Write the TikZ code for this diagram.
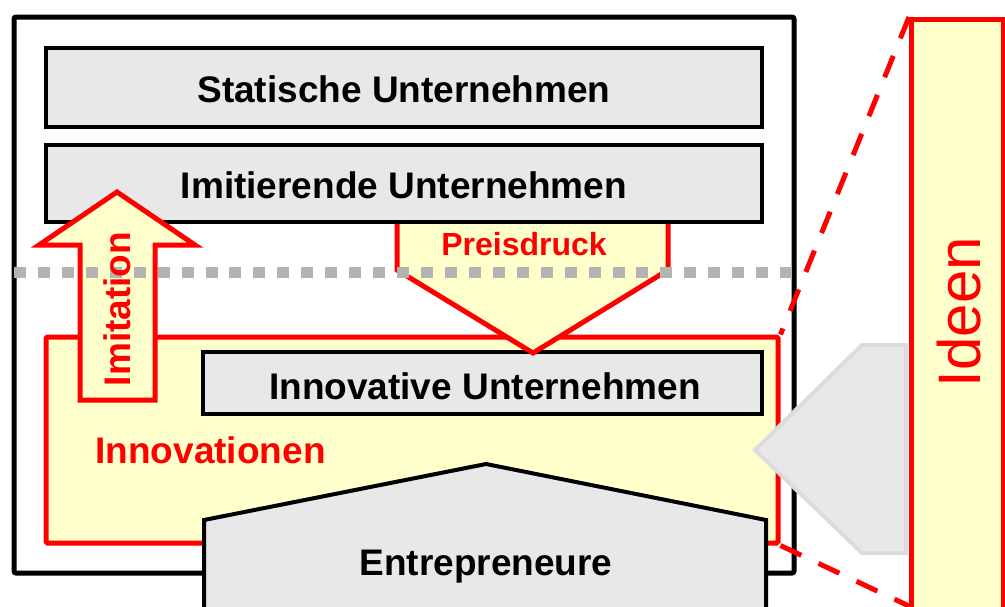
\documentclass[tikz,border=0pt]{standalone}
\usepackage{fontspec}
\setmainfont{Liberation Sans}
\definecolor{boxgray}{HTML}{E8E8E8}
\definecolor{ylw}{HTML}{FFFFCC}
\definecolor{rd}{HTML}{FF0000}
\definecolor{dotgray}{HTML}{B3B3B3}
\definecolor{pentgray}{HTML}{DCDCDC}
\begin{document}
\begin{tikzpicture}[x=1pt,y=-1pt,
  graybox/.style={draw=black,fill=boxgray,line width=3.5pt,inner sep=0pt},
  redshape/.style={draw=rd,fill=ylw,line width=5pt,line join=miter},
  bigtxt/.style={font=\bfseries\fontsize{37}{40}\selectfont,inner sep=0pt,anchor=base},
  redtxt/.style={bigtxt,text=rd},
  reddash/.style={draw=rd,line width=5pt,dash pattern=on 23pt off 19pt}]
\useasboundingbox (0,0) rectangle (1005,606);
\clip (0,0) rectangle (1005,606);
% outer frame
\node[draw=black,line width=5pt,rounded corners=2pt,inner sep=0pt,minimum width=780pt,minimum height=556pt] (frame) at (404,295) {};
% Statische
\node[graybox,minimum width=716pt,minimum height=79pt] (stat) at (404,87.5) {};
% Innovationen region
\node[redshape,rounded corners=1.5pt,inner sep=0pt,minimum width=732pt,minimum height=206pt] (innov) at (412,440) {};
% Innovative box
\node[graybox,minimum width=559pt,minimum height=62pt] (inbox) at (482.5,383) {};
% Preisdruck arrow
\path[redshape] (397,215) -- (397,270) -- (533,353) -- (668,270) -- (668,215);
% Imitierende
\node[graybox,minimum width=716pt,minimum height=77pt] (imit) at (404,183.5) {};
% Imitation arrow
\path[redshape] (80,400) -- (80,245) -- (39,245) -- (117,192) -- (195,245) -- (155,245) -- (155,400) -- cycle;
% dotted line
\coordinate (dl) at (14,272);
\coordinate (dr) at (795,272);
\draw[dotgray,line width=11pt,dash pattern=on 12pt off 11.94pt] (dl) -- (dr);
% Entrepreneure house
\path[draw=black,fill=boxgray,line width=4pt,line join=miter] (204,615) -- (204,520) -- (486,464) -- (766,520) -- (766,615) -- cycle;
% grey pentagon
\path[draw=pentgray,fill=boxgray,line width=4pt] (906,345) -- (862,345) -- (755,450) -- (862,553) -- (906,553) -- cycle;
% Ideen box
\node[redshape,inner sep=0pt,minimum width=92pt,minimum height=610pt,anchor=north west] (ideen) at (909,17) {};
% dashed zoom lines
\coordinate (itl) at (909,17);
\coordinate (ibl) at (909,606);
\draw[reddash] (itl) -- (innov.north east);
\draw[reddash] (innov.south east) -- (ibl);
% texts
\node[bigtxt] (tstat) at (404,102.5) {Statische Unternehmen};
\node[bigtxt] (timit) at (404,198.5) {Imitierende Unternehmen};
\node[redtxt,font=\bfseries\fontsize{32}{36}\selectfont] (tpreis) at (524,255.5) {Preisdruck};
\node[bigtxt] (tinbox) at (485,399.5) {Innovative Unternehmen};
\node[redtxt] (tinnov) at (210.5,463.5) {Innovationen};
\node[redtxt,rotate=90] (timitation) at (130,309) {Imitation};
\node[bigtxt] (tentr) at (486,575) {Entrepreneure};
\node[font=\fontsize{60}{64}\selectfont,text=rd,inner sep=0pt,anchor=base,rotate=90] (tideen) at (980,312) {Ideen};
\end{tikzpicture}
\end{document}
